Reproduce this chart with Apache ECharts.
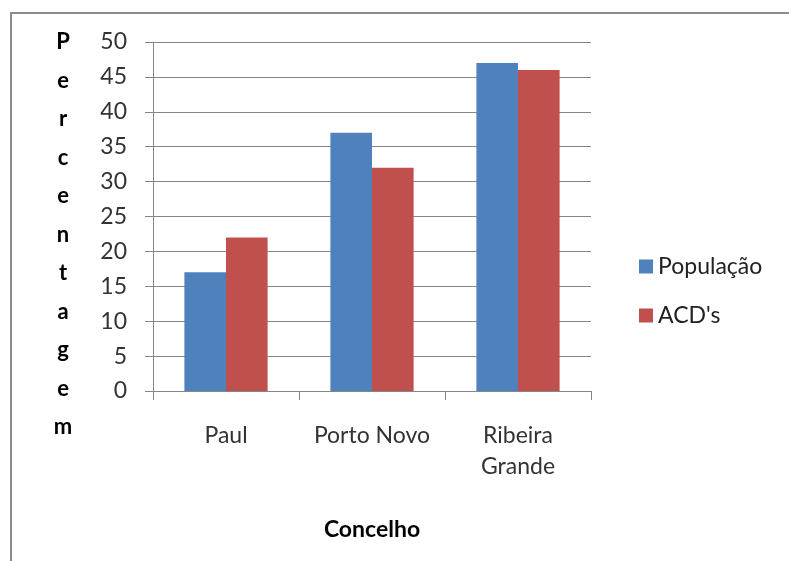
<!DOCTYPE html>
<html><head><meta charset="utf-8">
<script src="https://cdn.jsdelivr.net/npm/echarts@6/dist/echarts.min.js"></script>
<style>html,body{margin:0;padding:0;background:#fff}#c{width:789px;height:561px}</style>
</head><body><div id="c"></div>
<script>
const categories = ['Paul', 'Porto Novo', 'Ribeira\nGrande'];
const populacao = [17, 37, 47];
const acds = [22, 32, 46];
const seriesNames = ['População', "ACD's"];
const yTitle = 'Percentagem';
const xTitle = 'Concelho';

const FONT = 'Lato';
const chart = echarts.init(document.getElementById('c'));
chart.setOption({
  animation: false,
  textStyle: { fontFamily: FONT },
  grid: { left: 153, right: 198, top: 42, bottom: 170, containLabel: false },
  legend: {
    orient: 'vertical', left: 634, top: 250,
    itemWidth: 14, itemHeight: 14, itemGap: 26,
    icon: 'rect',
    textStyle: { fontFamily: FONT, fontSize: 23, color: '#222' },
    data: seriesNames
  },
  xAxis: {
    type: 'category', data: categories,
    name: xTitle, nameLocation: 'middle', nameGap: 127,
    nameTextStyle: { fontFamily: FONT, fontSize: 23, fontWeight: 'bold', color: '#000' },
    axisLine: { lineStyle: { color: '#868686', width: 1 } },
    axisTick: { show: true, length: 9, lineStyle: { color: '#868686' } },
    axisLabel: { interval: 0, hideOverlap: false, fontFamily: FONT, fontSize: 23, color: '#333', margin: 29, lineHeight: 31 }
  },
  yAxis: {
    type: 'value', min: 0, max: 50, interval: 5,
    axisLine: { show: true, lineStyle: { color: '#868686', width: 1 } },
    axisTick: { show: true, length: 8, lineStyle: { color: '#868686' } },
    splitLine: { show: true, lineStyle: { color: '#868686', width: 1 } },
    axisLabel: { fontFamily: FONT, fontSize: 23, color: '#333', margin: 26 }
  },
  graphic: [
    { type: 'line', shape: { x1: 11, y1: 12, x2: 11, y2: 561 }, style: { stroke: '#8c8c8c', lineWidth: 2 } },
    { type: 'line', shape: { x1: 10, y1: 13, x2: 789, y2: 13 }, style: { stroke: '#8c8c8c', lineWidth: 2 } },
    { type: 'text', x: 63, y: 23,
      style: { text: yTitle.split('').join('\n'), fontFamily: FONT, fontSize: 22, fontWeight: 'bold',
               fill: '#000', align: 'center', verticalAlign: 'top', lineHeight: 38.5 } }
  ],
  series: [
    { name: seriesNames[0], type: 'bar', data: populacao, barGap: '0%', barCategoryGap: '43%',
      itemStyle: { color: '#4F81BD' } },
    { name: seriesNames[1], type: 'bar', data: acds, barGap: '0%', barCategoryGap: '43%',
      itemStyle: { color: '#C0504D' } }
  ]
});
</script></body></html>
